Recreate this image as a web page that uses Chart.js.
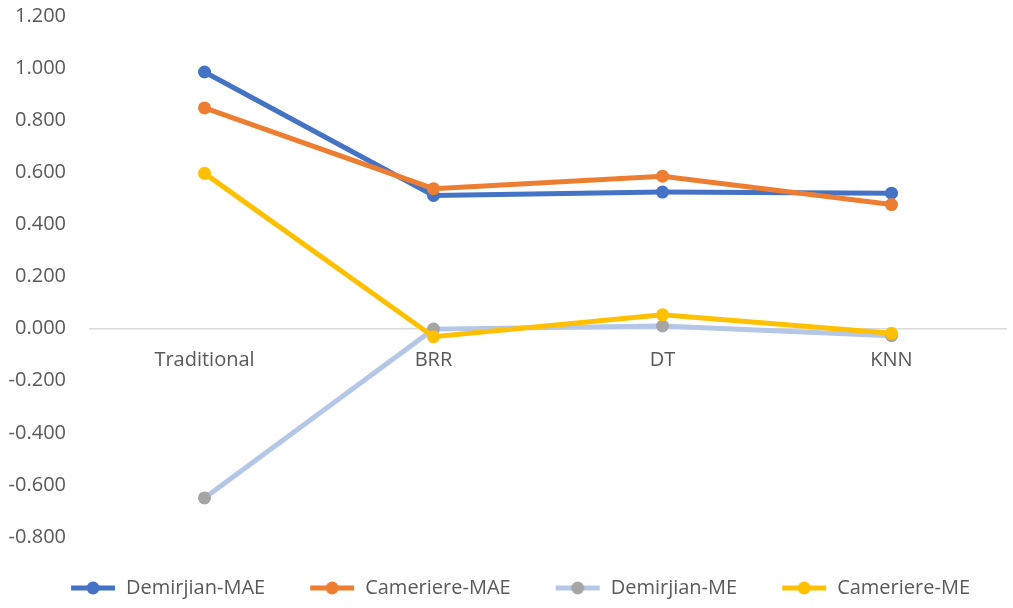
<!DOCTYPE html>
<html>
<head>
<meta charset="utf-8">
<script src="https://cdn.jsdelivr.net/npm/chart.js@4"></script>
<style>
  html, body { margin: 0; padding: 0; background: #fff; }
  #wrap { width: 1013px; height: 608px; }
</style>
</head>
<body>
<div id="wrap"><canvas id="grafico"></canvas></div>
<script>
// valores
const categorias = ['Traditional', 'BRR', 'DT', 'KNN'];
const demirjianMAE = [0.985, 0.511, 0.524, 0.520];
const cameriereMAE = [0.847, 0.537, 0.585, 0.476];
const demirjianME = [-0.650, -0.002, 0.010, -0.027];
const cameriereME = [0.596, -0.031, 0.053, -0.018];

const FONTE = "'Open Sans', sans-serif";
const CINZA = '#595959';

// marcador da legenda: linha com bolinha no meio (estilo excel)
// o canvas e mais largo que a linha, a parte vazia faz o espaco entre itens
function marcador(corLinha, corPonto) {
  const c = document.createElement('canvas');
  c.width = 80;
  c.height = 14;
  const ctx = c.getContext('2d');
  ctx.strokeStyle = corLinha;
  ctx.lineWidth = 5;
  ctx.beginPath();
  ctx.moveTo(35, 7);
  ctx.lineTo(79, 7);
  ctx.stroke();
  ctx.fillStyle = corPonto;
  ctx.beginPath();
  ctx.arc(57, 7, 6.5, 0, Math.PI * 2);
  ctx.fill();
  return c;
}

function serie(label, dados, corLinha, corPonto, ordem) {
  return {
    label: label,
    data: dados,
    borderColor: corLinha,
    backgroundColor: corPonto,
    pointBackgroundColor: corPonto,
    pointBorderColor: corPonto,
    borderWidth: 5,
    pointRadius: 6.5,
    pointBorderWidth: 0,
    pointStyle: 'circle',
    marcador: marcador(corLinha, corPonto),
    order: ordem,
    tension: 0
  };
}

const content = document.getElementById('grafico');
new Chart(content, {
  type: 'line',
  data: {
    labels: categorias,
    datasets: [
      serie('Demirjian-MAE', demirjianMAE, '#4472C4', '#4472C4', 4),
      serie('Cameriere-MAE', cameriereMAE, '#ED7D31', '#ED7D31', 3),
      serie('Demirjian-ME', demirjianME, '#B4C7E7', '#A5A5A5', 2),
      serie('Cameriere-ME', cameriereME, '#FFC000', '#FFC000', 1)
    ]
  },
  options: {
    responsive: true,
    maintainAspectRatio: false,
    animation: false,
    layout: { padding: { top: 16, right: 7, bottom: 0, left: 0 } },
    scales: {
      x: {
        type: 'category',
        offset: true,
        position: { y: 0 },
        grid: { display: false, drawTicks: false },
        border: { display: true, color: '#D9D9D9', width: 1.5 },
        ticks: { color: CINZA, font: { family: FONTE, size: 20 }, padding: 20, maxRotation: 0 },
        afterFit(s) { s.height = 0; }
      },
      espaco: {
        type: 'category',
        labels: [''],
        position: 'bottom',
        grid: { display: false, drawTicks: false },
        border: { display: false },
        ticks: { display: false },
        afterFit(s) { s.height = 31; }
      },
      y: {
        min: -0.8,
        max: 1.2,
        grid: { display: false, drawTicks: false },
        border: { display: false },
        ticks: {
          stepSize: 0.2,
          color: CINZA,
          font: { family: FONTE, size: 20 },
          padding: 24,
          callback: v => v.toFixed(3)
        },
        // largura fixa e sem a folga vertical que o padding dos ticks cria
        afterFit(s) {
          s.width = 90;
          s.paddingTop = 10;
          s.paddingBottom = 10;
        }
      }
    },
    plugins: {
      tooltip: { enabled: false },
      legend: {
        position: 'bottom',
        labels: {
          usePointStyle: true,
          pointStyleWidth: 80,
          color: CINZA,
          font: { family: FONTE, size: 20 },
          padding: 10,
          generateLabels(chart) {
            const itens = Chart.defaults.plugins.legend.labels.generateLabels(chart);
            itens.forEach(it => { it.pointStyle = chart.data.datasets[it.datasetIndex].marcador; });
            return itens.sort((a, b) => a.datasetIndex - b.datasetIndex);
          }
        }
      }
    }
  }
});
</script>
</body>
</html>
